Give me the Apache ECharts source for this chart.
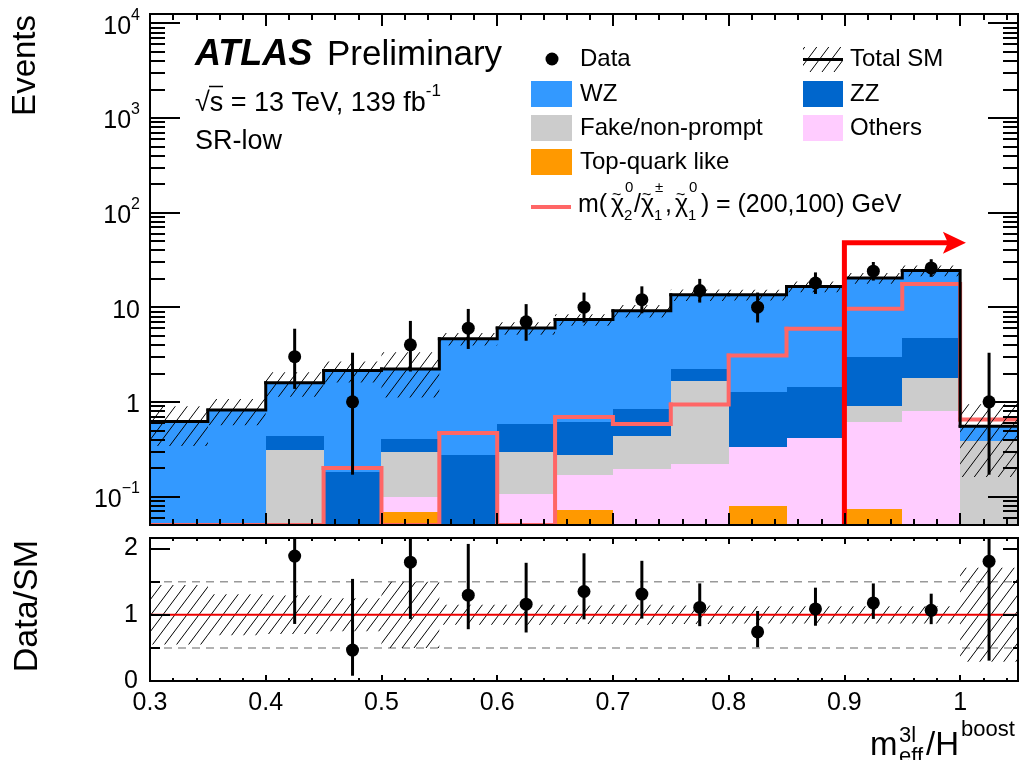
<!DOCTYPE html>
<html>
<head>
<meta charset="utf-8">
<title>SR-low</title>
<script src="https://cdn.jsdelivr.net/npm/echarts@6/dist/echarts.min.js"></script>
<style>
html, body { margin: 0; padding: 0; background: #fff; }
#chart { width: 1022px; height: 760px; }
</style>
</head>
<body>
<div id="chart"></div>
<script>
// bin edges in m_eff^3l / H^boost
var binEdges = [0.30, 0.35, 0.40, 0.45, 0.50, 0.55, 0.60, 0.65, 0.70, 0.75, 0.80, 0.85, 0.90, 0.95, 1.00, 1.05];

// SM backgrounds, events per bin (stacked bottom -> top)
var topQuark = [0, 0, 0, 0, 0.068, 0, 0, 0.072, 0, 0, 0.080, 0, 0.074, 0, 0];
var others   = [0, 0, 0, 0, 0.030, 0, 0.107, 0.095, 0.193, 0.221, 0.25, 0.41, 0.536, 0.81, 0];
var fake     = [0, 0, 0.31, 0, 0.20, 0, 0.19, 0.11, 0.24, 1.42, 0, 0, 0.30, 0.97, 0.39];
var zz       = [0, 0, 0.13, 0.18, 0.11, 0.277, 0.285, 0.34, 0.40, 0.59, 0.93, 1.02, 2.05, 2.96, 0];
var wz       = [0.62, 0.82, 1.15, 1.96, 1.82, 4.35, 5.45, 6.78, 8.31, 11.27, 12.24, 15.1, 17.4, 19.6, 0.163];

// relative uncertainty of total SM
var sysRel = [0.45, 0.31, 0.29, 0.25, 0.50, 0.15, 0.15, 0.14, 0.15, 0.14, 0.13, 0.13, 0.13, 0.13, 0.71];

// signal m(chi2/chi1, chi1) = (200,100) GeV
var signal = [0, 0, 0, 0.20, 0, 0.47, 0, 0.69, 0.585, 0.94, 3.08, 5.9, 9.6, 17.6, 0.65];

// data and its error bar ends
var dataCounts = [null, null, 3, 1, 4, 6, 7, 10, 12, 15, 10, 18, 24, 26, 1];
var dataLo     = [null, null, 1.37, 0.17, 2.09, 3.62, 4.42, 6.89, 8.62, 11.18, 6.89, 13.8, 19.1, 20.9, 0.17];
var dataHi     = [null, null, 5.92, 3.30, 7.16, 9.58, 10.77, 14.27, 16.6, 19.9, 14.27, 23.3, 30.0, 32.1, 3.30];

// tick labels
var xTicks = [0.3, 0.4, 0.5, 0.6, 0.7, 0.8, 0.9, 1.0];
var xTickLabels = ['0.3', '0.4', '0.5', '0.6', '0.7', '0.8', '0.9', '1'];
var yTickExps = [-1, 0, 1, 2, 3, 4];
var yTickLabels = ['{b|10}{s|\u22121}', '{b|1}', '{b|10}', '{b|10}{s|2}', '{b|10}{s|3}', '{b|10}{s|4}'];
var ratioTicks = [0, 1, 2];
var ratioTickLabels = ['0', '1', '2'];

// signal region arrow
var srCut = 0.9, arrowLevel = 48, arrowEnd = 1.005;

var yMin = 0.05, yMax = 12500, rMax = 2.16;
var xMin = binEdges[0], xMax = binEdges[binEdges.length - 1];
var FONT = '"Liberation Sans", Arial, Helvetica, sans-serif';

// hatch pattern (like ROOT fill style 3004)
var hatch = document.createElement('canvas');
hatch.width = 12; hatch.height = 16;
var hg = hatch.getContext('2d');
hg.strokeStyle = '#000'; hg.lineWidth = 1;
hg.beginPath();
hg.moveTo(0, 16); hg.lineTo(12, 0);
hg.moveTo(-3, 4); hg.lineTo(3, -4);
hg.moveTo(9, 20); hg.lineTo(15, 12);
hg.stroke();
var hatchFill = { image: hatch, repeat: 'repeat' };

// ---------- build stacks ----------
var stackDefs = [
    { name: 'Top-quark like', vals: topQuark, color: '#ff9900' },
    { name: 'Others', vals: others, color: '#ffccff' },
    { name: 'Fake/non-prompt', vals: fake, color: '#cccccc' },
    { name: 'ZZ', vals: zz, color: '#0066cc' },
    { name: 'WZ', vals: wz, color: '#3399ff' }
];
var total = wz.map(function () { return 0; });

function lg(v) { return Math.max(v, yMin); }

function renderBox(params, api) {
    var a = api.coord([api.value(0), lg(api.value(2))]);
    var b = api.coord([api.value(1), lg(api.value(3))]);
    return {
        type: 'rect',
        shape: { x: Math.round(a[0]), y: Math.round(b[1]), width: Math.round(b[0]) - Math.round(a[0]), height: Math.round(a[1]) - Math.round(b[1]) },
        style: { fill: api.visual('color') }
    };
}

var stackSeries = stackDefs.map(function (d) {
    var items = [];
    d.vals.forEach(function (v, i) {
        if (v > 0) items.push([binEdges[i], binEdges[i + 1], total[i], total[i] + v]);
        total[i] += v;
    });
    return {
        type: 'custom', name: d.name, xAxisIndex: 0, yAxisIndex: 0, z: 2, clip: true,
        itemStyle: { color: d.color }, renderItem: renderBox, data: items
    };
});

// ---------- step lines ----------
function stepItems(vals) {
    return vals.map(function (v, i) {
        var next = i + 1 < vals.length ? vals[i + 1] : v;
        return [binEdges[i], binEdges[i + 1], v, next];
    });
}
function makeStep(width) {
    return function (params, api) {
        var v = lg(api.value(2)), n = lg(api.value(3));
        var pts = [api.coord([api.value(0), v]), api.coord([api.value(1), v]), api.coord([api.value(1), n])];
        return {
            type: 'polyline', shape: { points: pts },
            style: { stroke: api.visual('color'), lineWidth: width, fill: null, lineCap: 'square', lineJoin: 'miter' }
        };
    };
}

// ---------- hatched uncertainty ----------
function renderHatch(clampLog) {
    return function (params, api) {
        var lo = api.value(2), hi = api.value(3);
        if (clampLog) { lo = lg(lo); hi = lg(hi); }
        var a = api.coord([api.value(0), lo]);
        var b = api.coord([api.value(1), hi]);
        return {
            type: 'rect',
            shape: { x: a[0], y: b[1], width: b[0] - a[0], height: a[1] - b[1] },
            style: { fill: hatchFill }
        };
    };
}
var bandTop = total.map(function (t, i) { return [binEdges[i], binEdges[i + 1], t * (1 - sysRel[i]), t * (1 + sysRel[i])]; });
var bandRatio = sysRel.map(function (r, i) { return [binEdges[i], binEdges[i + 1], 1 - r, 1 + r]; });

// ---------- data points ----------
function makePoint(minV, maxV) {
    return function (params, api) {
        var x = api.value(0);
        var c = api.coord([x, api.value(1)]);
        var lo = api.coord([x, Math.max(api.value(2), minV)]);
        var hi = api.coord([x, Math.min(api.value(3), maxV)]);
        return {
            type: 'group', children: [
                { type: 'line', shape: { x1: c[0], y1: lo[1], x2: c[0], y2: hi[1] }, style: { stroke: '#000', lineWidth: 3 } },
                { type: 'circle', shape: { cx: c[0], cy: c[1], r: 6.5 }, style: { fill: '#000' } }
            ]
        };
    };
}
var dataItems = [], ratioItems = [];
dataCounts.forEach(function (n, i) {
    if (n === null) return;
    var xc = (binEdges[i] + binEdges[i + 1]) / 2;
    dataItems.push([xc, n, dataLo[i], dataHi[i]]);
    ratioItems.push([xc, n / total[i], dataLo[i] / total[i], dataHi[i] / total[i]]);
});

// ---------- arrow ----------
function renderArrow(params, api) {
    var p0 = api.coord([api.value(0), yMin]);
    var p1 = api.coord([api.value(0), api.value(2)]);
    var p2 = api.coord([api.value(1), api.value(2)]);
    var tx = p2[0], ty = p2[1];
    return {
        type: 'group', children: [
            { type: 'polyline', shape: { points: [p0, p1, [tx - 16, ty]] }, style: { stroke: '#ff0000', lineWidth: 5, fill: null, lineJoin: 'miter' } },
            { type: 'polygon', shape: { points: [[tx, ty], [tx - 23, ty - 11], [tx - 18, ty], [tx - 23, ty + 11]] }, style: { fill: '#ff0000' } }
        ]
    };
}

// ---------- ratio reference lines ----------
function renderRef(params, api) {
    var y = api.value(0), dashed = api.value(1) > 0;
    var a = api.coord([xMin, y]), b = api.coord([xMax, y]);
    return {
        type: 'line', shape: { x1: a[0], y1: a[1], x2: b[0], y2: b[1] },
        style: dashed ? { stroke: '#999999', lineWidth: 1.5, lineDash: [8, 6] } : { stroke: '#ee0000', lineWidth: 2 }
    };
}

// ---------- axes ----------
var xMinor = [], lyMinor = [];
for (var k = 15; k <= 52; k++) { if (k % 5 !== 0) xMinor.push(k * 0.02); }
for (var e = -2; e <= 4; e++) {
    for (var m = 2; m <= 9; m++) {
        var v = m * Math.pow(10, e);
        if (v >= yMin && v <= yMax) lyMinor.push(Math.log10(v));
    }
}
var lyMin = Math.log10(yMin), lyMax = Math.log10(yMax);

function tickAxis(type, grid, pos, min, max, vals, len, label) {
    return {
        type: type, gridIndex: grid, position: pos, min: min, max: max, z: 10,
        axisLine: { show: false, onZero: false },
        splitLine: { show: false },
        axisTick: { show: true, inside: true, length: len, customValues: vals, lineStyle: { color: '#000', width: 2 } },
        axisLabel: label || { show: false }
    };
}
function nearestLabel(list, labels) {
    return function (val) {
        var best = 0;
        for (var i = 1; i < list.length; i++) if (Math.abs(list[i] - val) < Math.abs(list[best] - val)) best = i;
        return labels[best];
    };
}

var xAxes = [
    tickAxis('value', 0, 'bottom', xMin, xMax, xTicks, 12),
    tickAxis('value', 0, 'bottom', xMin, xMax, xMinor, 6),
    tickAxis('value', 0, 'top', xMin, xMax, xTicks, 12),
    tickAxis('value', 0, 'top', xMin, xMax, xMinor, 6),
    tickAxis('value', 1, 'bottom', xMin, xMax, xTicks, 6, {
        show: true, customValues: xTicks, margin: 10, color: '#000', fontSize: 25, fontFamily: FONT,
        formatter: nearestLabel(xTicks, xTickLabels)
    }),
    tickAxis('value', 1, 'bottom', xMin, xMax, xMinor, 3),
    tickAxis('value', 1, 'top', xMin, xMax, xTicks, 6),
    tickAxis('value', 1, 'top', xMin, xMax, xMinor, 3)
];

var yAxes = [
    {
        type: 'log', logBase: 10, gridIndex: 0, position: 'left', min: yMin, max: yMax,
        axisLine: { show: false, onZero: false }, axisTick: { show: false }, axisLabel: { show: false }, splitLine: { show: false }
    },
    tickAxis('value', 0, 'left', lyMin, lyMax, yTickExps, 30, {
        show: true, customValues: yTickExps, margin: 10, color: '#000', fontFamily: FONT,
        formatter: nearestLabel(yTickExps, yTickLabels),
        rich: {
            b: { fontSize: 25, lineHeight: 32, verticalAlign: 'bottom', fontFamily: FONT, color: '#000' },
            s: { fontSize: 16, lineHeight: 16, verticalAlign: 'top', fontFamily: FONT, color: '#000' }
        }
    }),
    tickAxis('value', 0, 'left', lyMin, lyMax, lyMinor, 15),
    tickAxis('value', 0, 'right', lyMin, lyMax, yTickExps, 30),
    tickAxis('value', 0, 'right', lyMin, lyMax, lyMinor, 15),
    tickAxis('value', 1, 'left', 0, rMax, ratioTicks, 20, {
        show: true, customValues: ratioTicks, margin: 12, color: '#000', fontSize: 25, fontFamily: FONT,
        formatter: nearestLabel(ratioTicks, ratioTickLabels)
    }),
    tickAxis('value', 1, 'left', 0, rMax, [0.5, 1.5], 10),
    tickAxis('value', 1, 'right', 0, rMax, ratioTicks, 15),
    tickAxis('value', 1, 'right', 0, rMax, [0.5, 1.5], 5)
];

// ---------- legend / labels ----------
function txt(x, y, s, size, opt) {
    opt = opt || {};
    var al = opt.align || 'left';
    return {
        type: 'text', x: x, y: y, rotation: opt.rotation || 0, z: 100, silent: true,
        style: {
            text: s, fill: '#000', fontSize: size, fontFamily: FONT,
            fontWeight: opt.weight || 'normal', fontStyle: opt.italic ? 'italic' : 'normal',
            align: al, textAlign: al, verticalAlign: 'middle', textVerticalAlign: 'middle',
            rich: opt.rich
        }
    };
}
function box(x, y, w, h, fill) {
    return { type: 'rect', z: 100, silent: true, shape: { x: x, y: y, width: w, height: h }, style: { fill: fill } };
}
function seg(x1, y1, x2, y2, color, w) {
    return { type: 'line', z: 100, silent: true, shape: { x1: x1, y1: y1, x2: x2, y2: y2 }, style: { stroke: color, lineWidth: w } };
}
// chi-tilde with super/subscript
function chi(x, sup, sub) {
    return [
        txt(x, 205, '\u03C7', 25),
        txt(x + 1, 196, '~', 16),
        txt(x + 14, 188, sup, 15),
        txt(x + 13, 216, sub, 15)
    ];
}

var graphics = [
    txt(26, 15, 'Events', 33, { rotation: Math.PI / 2, align: 'right' }),
    txt(28, 540, 'Data/SM', 34, { rotation: Math.PI / 2, align: 'right' }),
    txt(195, 55, 'ATLAS', 36, { weight: 'bold', italic: true }),
    txt(327, 55, 'Preliminary', 35),
    txt(195, 100, '{a|\u221As = 13 TeV, 139 fb}{s|-1}', 27, {
        rich: {
            a: { fontSize: 27, lineHeight: 34, verticalAlign: 'bottom', fontFamily: FONT, color: '#000' },
            s: { fontSize: 17, lineHeight: 17, verticalAlign: 'top', fontFamily: FONT, color: '#000' }
        }
    }),
    seg(209, 86.5, 223, 86.5, '#000', 1.5),
    txt(195, 142, 'SR-low', 27),

    // legend column 1
    { type: 'circle', z: 100, silent: true, shape: { cx: 552, cy: 59, r: 6.5 }, style: { fill: '#000' } },
    txt(580, 59, 'Data', 24),
    box(531, 81, 41, 26, '#3399ff'), txt(580, 94, 'WZ', 24),
    box(531, 115, 41, 26, '#cccccc'), txt(580, 128, 'Fake/non-prompt', 24),
    box(531, 149, 41, 26, '#ff9900'), txt(580, 162, 'Top-quark like', 24),
    seg(531, 207, 571, 207, '#ff6666', 4),

    // legend column 2
    box(803, 47, 40, 25, hatchFill),
    seg(803, 59.5, 843, 59.5, '#000', 3),
    txt(850, 59, 'Total SM', 24),
    box(803, 81, 40, 26, '#0066cc'), txt(850, 94, 'ZZ', 24),
    box(803, 115, 40, 26, '#ffccff'), txt(850, 128, 'Others', 24),

    // signal label
    txt(578, 205, 'm(', 25),
    txt(634, 205, '/', 25),
    txt(665, 205, ',', 25),
    txt(701, 205, ')', 25),
    txt(716, 205, '= (200,100) GeV', 25),

    // x axis title
    txt(870, 746, 'm', 33),
    txt(899, 736, '3l', 22),
    txt(899, 757, 'eff', 22),
    txt(926, 746, '/H', 33),
    txt(961, 730, 'boost', 22)
].concat(chi(611, '0', '2'), chi(641, '\u00B1', '1'), chi(675, '0', '1'));

var series = stackSeries.concat([
    {
        type: 'custom', name: 'signal', xAxisIndex: 0, yAxisIndex: 0, z: 3, clip: true,
        itemStyle: { color: '#ff6666' }, renderItem: makeStep(4), data: stepItems(signal)
    },
    {
        type: 'custom', name: 'Total SM uncertainty', xAxisIndex: 0, yAxisIndex: 0, z: 4, clip: true,
        renderItem: renderHatch(true), data: bandTop
    },
    {
        type: 'custom', name: 'Total SM', xAxisIndex: 0, yAxisIndex: 0, z: 5, clip: true,
        itemStyle: { color: '#000' }, renderItem: makeStep(3), data: stepItems(total)
    },
    {
        type: 'custom', name: 'Data', xAxisIndex: 0, yAxisIndex: 0, z: 6, clip: true,
        renderItem: makePoint(yMin, yMax), data: dataItems
    },
    {
        type: 'custom', name: 'SR', xAxisIndex: 0, yAxisIndex: 0, z: 7, clip: true,
        renderItem: renderArrow, data: [[srCut, arrowEnd, arrowLevel]]
    },
    // ratio panel
    {
        type: 'custom', name: 'ref', xAxisIndex: 4, yAxisIndex: 5, z: 2, clip: true,
        renderItem: renderRef, data: [[0.5, 1], [1.5, 1]]
    },
    {
        type: 'custom', name: 'ratio band', xAxisIndex: 4, yAxisIndex: 5, z: 3, clip: true,
        renderItem: renderHatch(false), data: bandRatio
    },
    {
        type: 'custom', name: 'unity', xAxisIndex: 4, yAxisIndex: 5, z: 4, clip: true,
        renderItem: renderRef, data: [[1, 0]]
    },
    {
        type: 'custom', name: 'Data/SM', xAxisIndex: 4, yAxisIndex: 5, z: 6, clip: true,
        renderItem: makePoint(0, rMax), data: ratioItems
    }
]);

var chart = echarts.init(document.getElementById('chart'), null, { renderer: 'canvas' });
chart.setOption({
    animation: false,
    backgroundColor: '#fff',
    grid: [
        { left: 150, right: 4, top: 14, height: 511, show: true, z: 10, borderColor: '#000', borderWidth: 2, backgroundColor: 'transparent', containLabel: false, outerBoundsMode: 'none' },
        { left: 150, right: 4, top: 538, height: 143, show: true, z: 10, borderColor: '#000', borderWidth: 2, backgroundColor: 'transparent', containLabel: false, outerBoundsMode: 'none' }
    ],
    xAxis: xAxes,
    yAxis: yAxes,
    graphic: graphics,
    series: series
});
</script>
</body>
</html>
